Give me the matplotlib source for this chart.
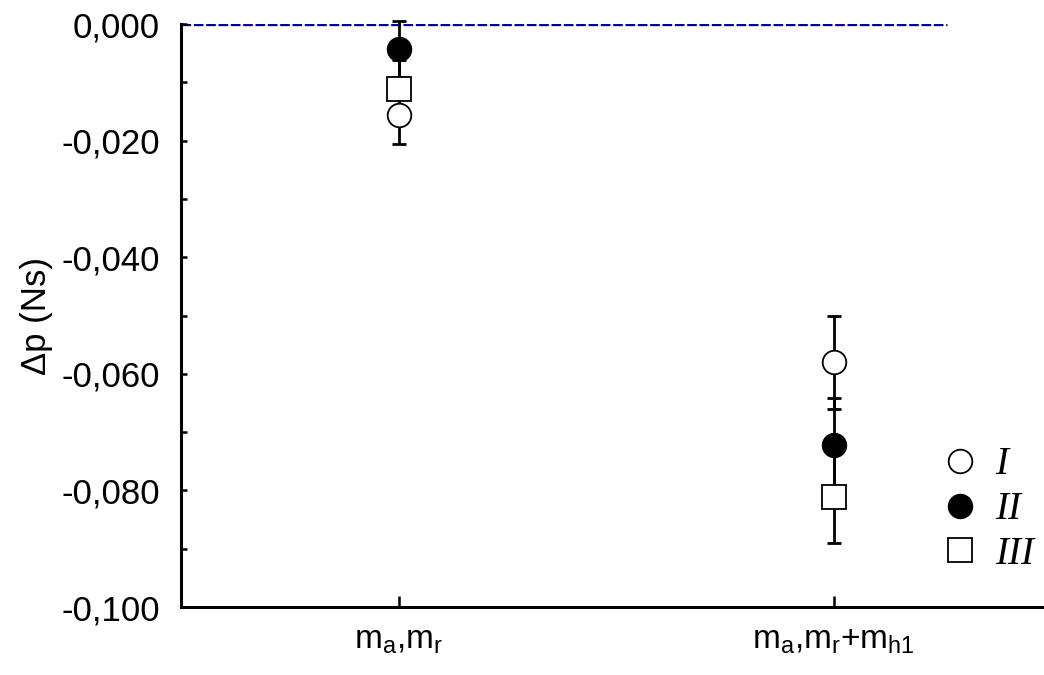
import numpy as np
import matplotlib
matplotlib.use("Agg")
import matplotlib.pyplot as plt
from matplotlib.lines import Line2D
from matplotlib.ticker import MultipleLocator, FuncFormatter

plt.rcParams["font.family"] = ["Liberation Sans", "DejaVu Sans"]
plt.rcParams["axes.unicode_minus"] = False
plt.rcParams["mathtext.fontset"] = "custom"
plt.rcParams["mathtext.rm"] = "Liberation Sans"

categories = [r"m$_\mathregular{a}$,m$_\mathregular{r}$",
              r"m$_\mathregular{a}$,m$_\mathregular{r}$+m$_\mathregular{h1}$"]
series_names = ["I", "II", "III"]
dp_I = [-0.0156, -0.0580]
dp_II = [-0.0043, -0.0722]
dp_III = [-0.0111, -0.0811]
err_I = [0.0050, 0.0080]
err_II = [0.0048, 0.0080]
err_III = [0.0050, 0.0080]

x = np.arange(1, len(categories) + 1)


def fmt_tick(v, pos):
    if abs(v) < 1e-9:
        v = 0.0
    return f"{v:.3f}".replace(".", ",")


fig = plt.figure(figsize=(10.44, 6.75), dpi=100)
ax = fig.add_axes([0.1734, 0.1007, 0.8266, 0.8637])

ax.hlines(0.0, 0.5, 2.26, colors="#0000a8", linestyles=(0, (2.9, 0.8)), lw=2.4, zorder=1)

styles = [
    dict(marker="o", mfc="white", mec="black"),
    dict(marker="o", mfc="black", mec="black"),
    dict(marker="s", mfc="white", mec="black"),
]
data = [(dp_I, err_I), (dp_II, err_II), (dp_III, err_III)]
for (y, e), st in zip(data, styles):
    ax.errorbar(x, y, yerr=e, fmt="none", ecolor="black", elinewidth=2.0,
                capsize=5, capthick=2.0, zorder=2, clip_on=False)
for (y, e), st in zip(data, styles):
    ax.plot(x, y, ls="none", ms=17, mew=1.3, zorder=3, clip_on=False, **st)

ax.set_xlim(0.5, 2.483)
ax.set_ylim(-0.1, 0.0)
ax.set_xticks(x)
ax.set_xticklabels(categories, fontsize=24)
ax.yaxis.set_major_locator(MultipleLocator(0.02))
ax.yaxis.set_minor_locator(MultipleLocator(0.01))
ax.yaxis.set_major_formatter(FuncFormatter(fmt_tick))
ax.tick_params(axis="y", which="both", direction="in", length=4, width=1.8,
               labelsize=25, pad=15)
ax.tick_params(axis="x", direction="in", length=8, width=1.8, pad=13)
ax.set_ylabel("Δp (Ns)", fontsize=25, labelpad=6)

for s in ["top", "right"]:
    ax.spines[s].set_visible(False)
for s in ["left", "bottom"]:
    ax.spines[s].set_linewidth(2.2)

handles = [Line2D([], [], ls="none", ms=17, mew=1.3, **st) for st in styles]
leg = ax.legend(handles, series_names, loc="center left",
                bbox_to_anchor=(0.844, 0.167), frameon=False, handlelength=0.8,
                handletextpad=0.5, labelspacing=0.2,
                prop=dict(family="Liberation Serif", style="italic", size=28))

fig.savefig("out.png", dpi=100)
